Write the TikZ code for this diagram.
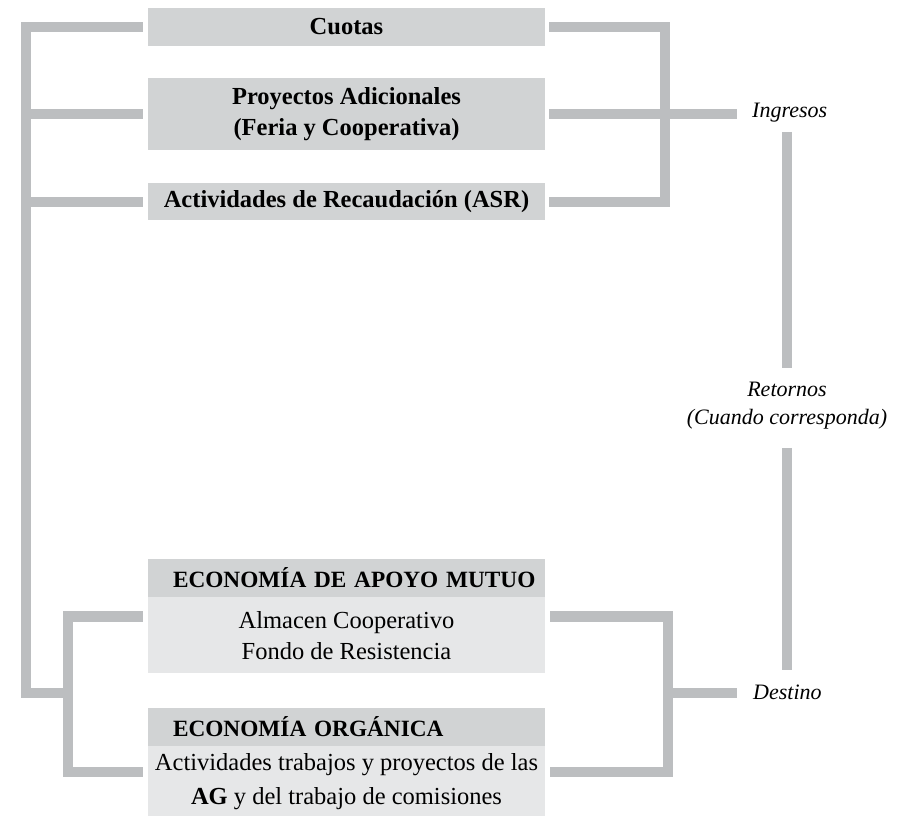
\documentclass[tikz,border=0pt]{standalone}
\usepackage{fontspec}
\setmainfont{Liberation Serif}
\usetikzlibrary{positioning}
\definecolor{hdrgray}{RGB}{209,211,212}
\definecolor{bodygray}{RGB}{230,231,232}
\definecolor{linegray}{RGB}{188,190,192}

\begin{document}
\begin{tikzpicture}[
        x=1pt, y=-1pt,
        box/.style={rectangle, fill=hdrgray, minimum width=397pt, inner sep=0pt, align=center, font=\fontsize{24.5}{31}\selectfont\bfseries},
        hdr/.style={rectangle, fill=hdrgray, text width=397pt, minimum height=38pt, inner sep=0pt, align=left, font=\fontsize{23.3}{31}\selectfont\bfseries},
        body/.style={rectangle, fill=bodygray, minimum width=397pt, inner sep=0pt, align=center, font=\fontsize{24.5}{31}\selectfont},
        lbl/.style={inner sep=0pt, align=center, font=\fontsize{22}{28}\selectfont\itshape},
        conn/.style={draw=linegray, line width=10.5pt, line join=miter}
    ]
        \useasboundingbox (0,0) rectangle (909,815);

        % Nodes
        \node[box, minimum height=38pt] (cuotas) at (346.5,27) {Cuotas};
        \node[box, minimum height=72pt, below=31.5pt of cuotas] (proyectos) {Proyectos Adicionales\\(Feria y Cooperativa)};
        \node[box, minimum height=37pt, below=33pt of proyectos] (actividades) {Actividades de Recaudación (ASR)};
        \node[hdr] (apoyoH) at (346.5,578) {\hspace*{25pt}ECONOMÍA DE APOYO MUTUO};
        \node[body, minimum height=76pt, below=0pt of apoyoH] (apoyoB) {Almacen Cooperativo\\Fondo de Resistencia};
        \node[hdr, below=34pt of apoyoB] (organicaH) {\hspace*{25pt}ECONOMÍA ORGÁNICA};
        \node[body, minimum height=71pt, font=\fontsize{24.5}{34}\selectfont, below=0pt of organicaH] (organicaB) {Actividades trabajos y proyectos de las\\\textbf{AG} y del trabajo de comisiones};

        \node[lbl, anchor=west] (ingresos) at (752,113) {Ingresos};
        \node[lbl] (retornos) at (787,406) {Retornos\\(Cuando corresponda)};
        \node[lbl, anchor=west] (destino) at (753,692) {Destino};

        \coordinate (outL) at (26,693);
        \coordinate (inL) at (68,693);
        \coordinate (busT) at (665,114);
        \coordinate (busB) at (668,693);

        % Connectors
        \draw[conn] ([xshift=-5pt]cuotas.west) -| (outL) -- (inL);
        \draw[conn] ([xshift=-5pt]proyectos.west) -- (proyectos.west -| outL);
        \draw[conn] ([xshift=-5pt]actividades.west) -- (actividades.west -| outL);
        \draw[conn] ([shift={(-5pt,19pt)}]apoyoB.west) -| (inL) |- ([shift={(-5pt,9.5pt)}]organicaB.west);
        \draw[conn] ([xshift=4pt]cuotas.east) -| (busT) |- ([xshift=4pt]actividades.east);
        \draw[conn] ([xshift=4pt]proyectos.east) -- ([xshift=-15pt]proyectos.east -| ingresos.west);
        \draw[conn] ([shift={(5pt,19pt)}]apoyoB.east) -| (busB) |- ([shift={(5pt,9.5pt)}]organicaB.east);
        \draw[conn] (busB) -- ([xshift=-16pt]busB -| destino.west);
        \draw[conn] ([yshift=-9pt]ingresos.south -| retornos.north) -- ([yshift=14pt]retornos.north);
        \draw[conn] ([yshift=-18pt]retornos.south) -- ([yshift=14pt]destino.north -| retornos.south);
    \end{tikzpicture}
\end{document}
